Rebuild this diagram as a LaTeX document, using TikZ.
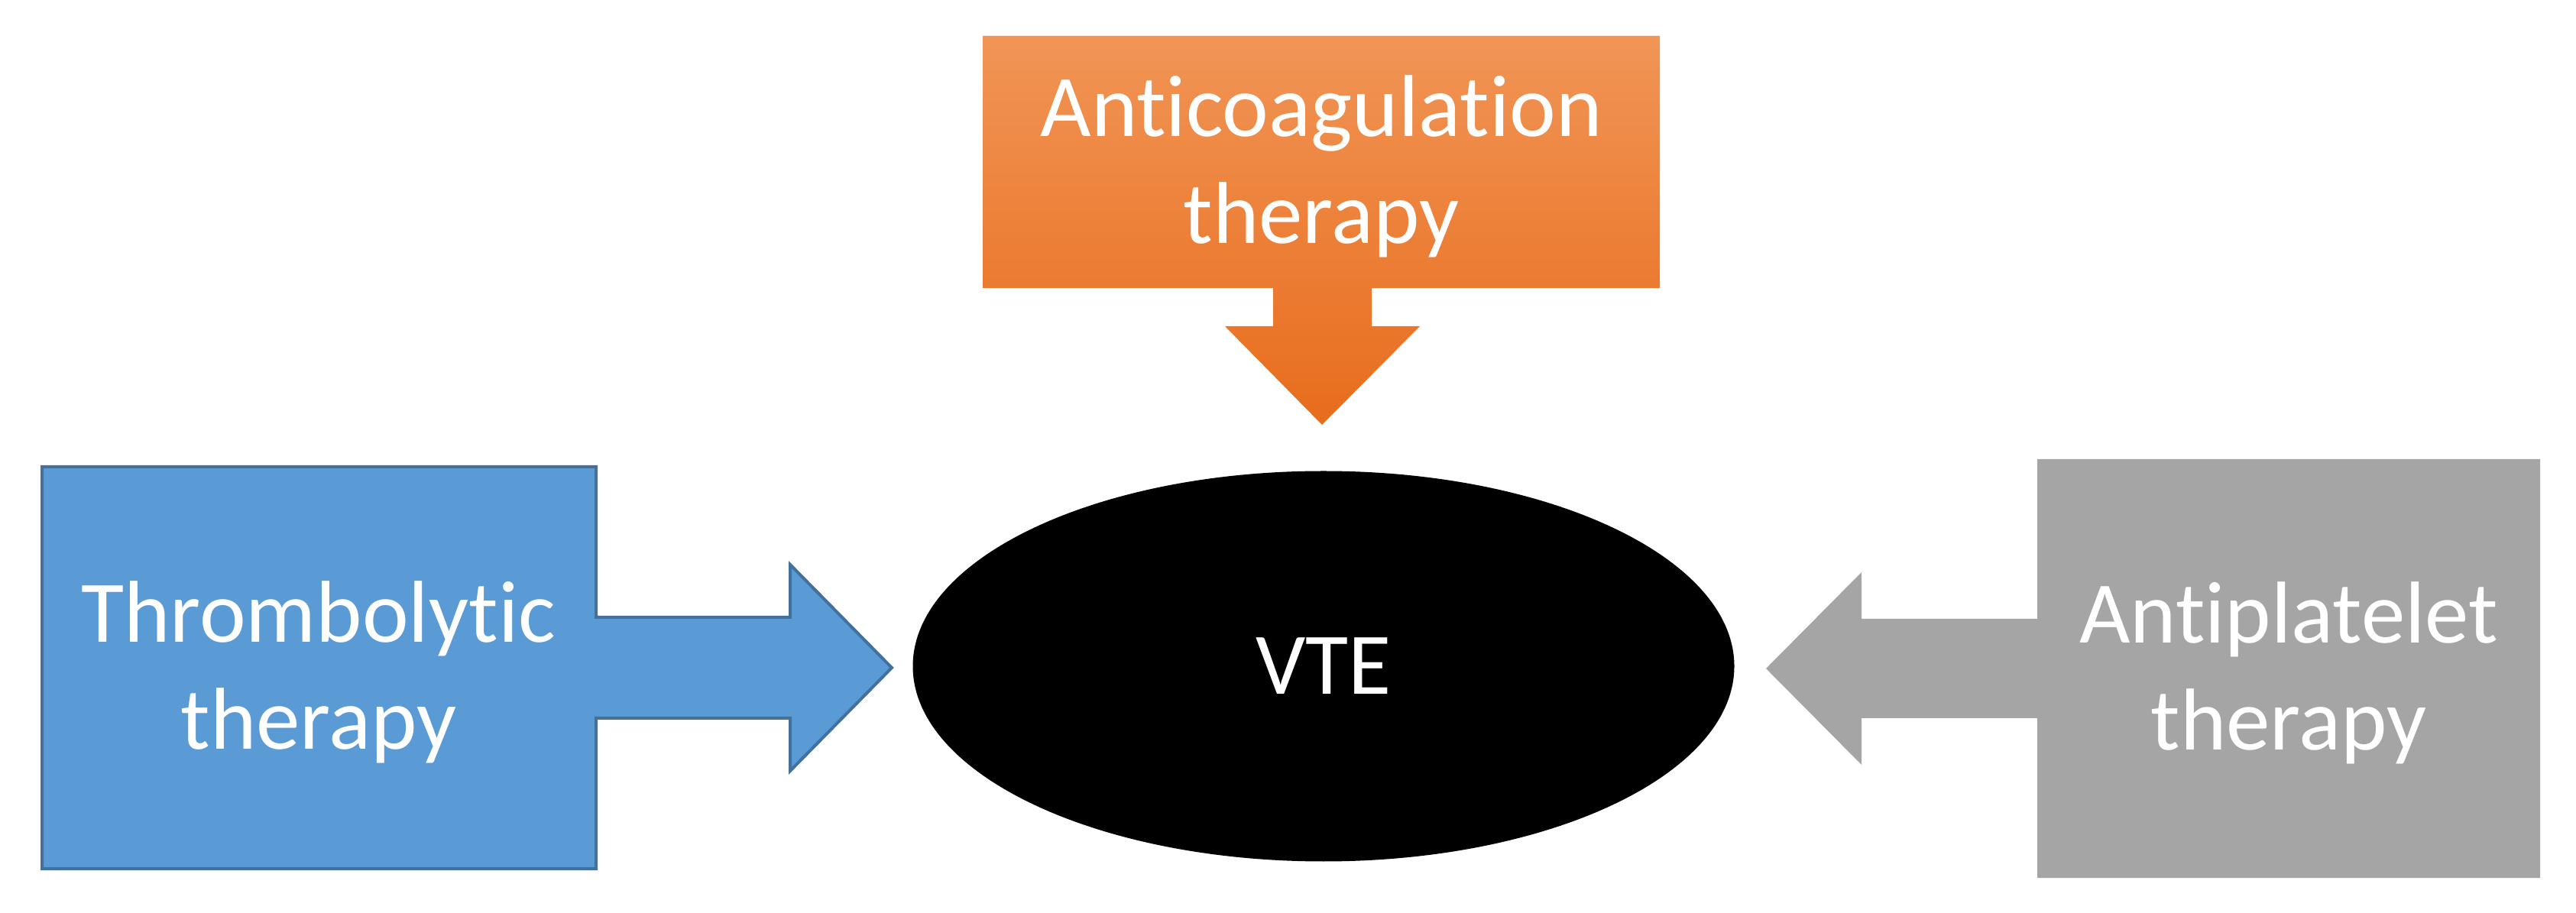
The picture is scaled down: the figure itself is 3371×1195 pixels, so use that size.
\documentclass[tikz,border=0pt]{standalone}
\usepackage{fontspec}
\setmainfont{Carlito}[RawFeature={-liga,-dlig,-clig}]
\usetikzlibrary{shapes.geometric}
\definecolor{blueF}{HTML}{5B9BD5}
\definecolor{blueD}{HTML}{41719C}
\definecolor{grayF}{HTML}{A5A5A5}
\definecolor{orTop}{HTML}{F19556}
\definecolor{orBot}{HTML}{E86C1C}
\begin{document}
\begin{tikzpicture}[x=0.25pt,y=-0.25pt,
  lbl/.style={font=\fontsize{28.75pt}{35pt}\selectfont, text=white, align=center, inner sep=0pt},
  bluecallout/.style={fill=blueF, draw=blueD, line width=1pt, line join=miter},
  graycallout/.style={fill=grayF},
  orcallout/.style={top color=orTop, bottom color=orBot, draw=none}]
\useasboundingbox (0,0) rectangle (3371,1195);
% left callout (blue)
\path[bluecallout] (55,611) -- (780,611) -- (780,808) -- (1034,808) -- (1034,739)
  -- (1167,874) -- (1034,1009) -- (1034,940) -- (780,940) -- (780,1137) -- (55,1137) -- cycle;
% right callout (gray)
\path[graycallout] (3324,601) -- (2666,601) -- (2666,810) -- (2436,810) -- (2436,749)
  -- (2311,875) -- (2436,1001) -- (2436,940) -- (2666,940) -- (2666,1149) -- (3324,1149) -- cycle;
% top callout (orange)
\path[orcallout] (1286,47) -- (2172,47) -- (2172,377) -- (1795,377) -- (1795,427) -- (1858,427)
  -- (1730,556) -- (1603,427) -- (1666,427) -- (1666,377) -- (1286,377) -- cycle;
% center
\node[ellipse, fill=black, minimum width=268.75pt, minimum height=127.75pt, inner sep=0pt,
  font=\fontsize{28.75pt}{35pt}\selectfont, text=white] (vte) at (1732,872) {VTE};
% labels
\node[lbl] (thr) at (417,880) {Thrombolytic\\therapy};
\node[lbl] (anti) at (2995,881) {Antiplatelet\\therapy};
\node[lbl] (coag) at (1729,218) {Anticoagulation\\therapy};
\end{tikzpicture}
\end{document}
